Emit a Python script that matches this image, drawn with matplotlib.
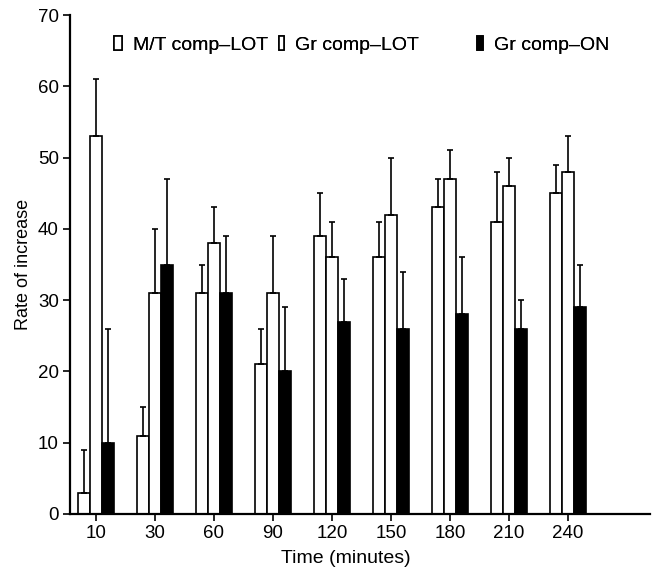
import matplotlib
matplotlib.use("Agg")
import matplotlib.pyplot as plt
import numpy as np

plt.rcParams['font.family'] = ['Liberation Sans', 'DejaVu Sans']

categories = ["10", "30", "60", "90", "120", "150", "180", "210", "240"]
mt_lot = [3, 11, 31, 21, 39, 36, 43, 41, 45]
mt_lot_err = [6, 4, 4, 5, 6, 5, 4, 7, 4]
gr_lot = [53, 31, 38, 31, 36, 42, 47, 46, 48]
gr_lot_err = [8, 9, 5, 8, 5, 8, 4, 4, 5]
gr_on = [10, 35, 31, 20, 27, 26, 28, 26, 29]
gr_on_err = [16, 12, 8, 9, 6, 8, 8, 4, 6]
series_labels = ['M/T comp\u2013LOT', 'Gr comp\u2013LOT', 'Gr comp\u2013ON']

W, H = 657, 572
fig = plt.figure(figsize=(W / 100, H / 100), dpi=100)
ax = fig.add_axes([70 / W, 1 - 514 / H, 580 / W, 499 / H])

x = np.arange(len(categories))
w = 0.2
ekw = dict(elinewidth=1.2, capthick=1.2, ecolor='black')
zeros = np.zeros(len(x))
b1 = ax.bar(x - w, mt_lot, w, color='white', edgecolor='black', linewidth=1.2,
            yerr=[zeros, mt_lot_err], capsize=2.5, error_kw=ekw)
b2 = ax.bar(x, gr_lot, w, color='white', edgecolor='black', linewidth=1.2,
            yerr=[zeros, gr_lot_err], capsize=2.5, error_kw=ekw)
b3 = ax.bar(x + w, gr_on, w, color='black', edgecolor='black', linewidth=1.2,
            yerr=[zeros, gr_on_err], capsize=2.5, error_kw=ekw)

ax.set_xlim(-0.44, 9.39)
ax.set_ylim(0, 70)
ax.set_xticks(x)
ax.set_xticklabels(categories)
ax.set_yticks(np.arange(0, 71, 10))
ax.tick_params(axis='both', direction='out', labelsize=13.5, width=1.2, length=5, pad=3)
for s in ['top', 'right']:
    ax.spines[s].set_visible(False)
for s in ['left', 'bottom']:
    ax.spines[s].set_linewidth(1.6)

ax.set_xlabel('Time (minutes)', fontsize=14)
ax.xaxis.set_label_coords(0.476, -0.072)
ax.set_ylabel('Rate of increase', fontsize=13)

# legend entries, each placed individually
entries = [(b1, series_labels[0], 114, 0.42),
           (b2, series_labels[1], 279, 0.28),
           (b3, series_labels[2], 477, 0.32)]
for handle, lab, xpix, hl in entries:
    leg = fig.legend([handle[0]], [lab], loc='center left',
                     bbox_to_anchor=(xpix / W, 1 - 45 / H), frameon=False,
                     fontsize=14, handlelength=hl, handleheight=0.75,
                     handletextpad=0.55, borderpad=0, borderaxespad=0)
    fig.add_artist(leg)

fig.savefig('out.png', dpi=100)
